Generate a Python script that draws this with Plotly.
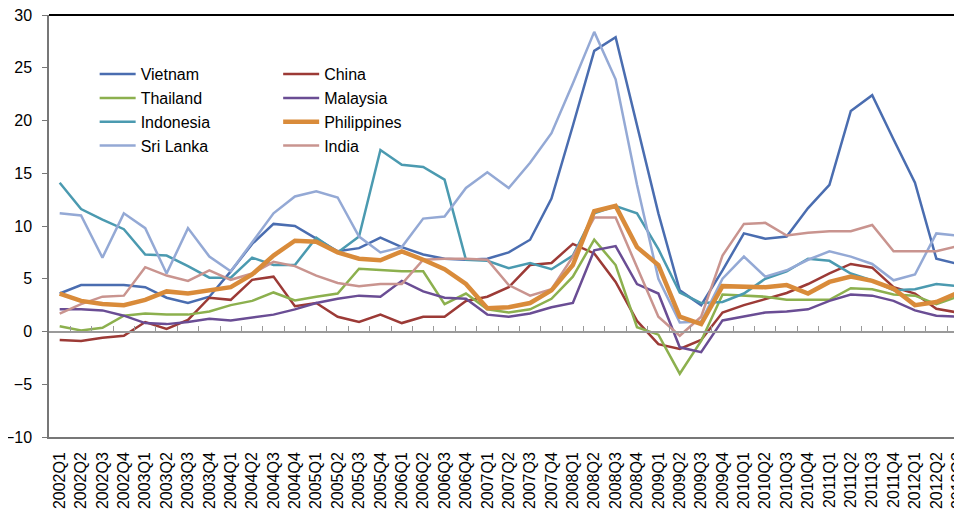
import plotly.graph_objects as go

quarters = [f"{y}Q{q}" for y in range(2002, 2013) for q in range(1, 5)][:43]

vietnam = [3.6, 4.4, 4.4, 4.4, 4.2, 3.2, 2.7, 3.3, 5.7, 8.3, 10.2, 10.0, 8.8, 7.6, 7.9,
           8.9, 8.0, 7.3, 6.9, 6.8, 6.9, 7.5, 8.7, 12.6, 19.5, 26.6, 27.9, 19.6, 11.2,
           3.9, 2.5, 5.8, 9.3, 8.8, 9.0, 11.7, 13.9, 20.9, 22.4, 18.2, 14.1, 6.9, 6.4]
china = [-0.8, -0.9, -0.6, -0.4, 0.9, 0.25, 1.1, 3.2, 3.0, 4.9, 5.2, 2.4, 2.7, 1.4, 0.9,
         1.6, 0.8, 1.4, 1.4, 2.9, 3.3, 4.2, 6.3, 6.5, 8.3, 7.4, 4.7, 1.0, -1.2,
         -1.65, -0.8, 1.8, 2.5, 3.1, 3.65, 4.5, 5.5, 6.4, 6.05, 4.2, 3.6, 2.15, 1.8]
thailand = [0.5, 0.1, 0.35, 1.5, 1.7, 1.6, 1.6, 1.9, 2.5, 2.9, 3.7, 2.95, 3.3, 3.6, 5.95,
            5.8, 5.7, 5.7, 2.6, 3.6, 2.1, 1.8, 2.1, 3.1, 5.2, 8.7, 6.3, 0.4, -0.3,
            -4.0, -0.9, 3.5, 3.4, 3.3, 3.0, 3.0, 3.0, 4.1, 4.0, 3.5, 3.4, 2.6, 3.3]
malaysia = [2.1, 2.1, 2.0, 1.5, 0.8, 0.7, 0.9, 1.2, 1.05, 1.3, 1.6, 2.1, 2.7, 3.1, 3.4,
            3.3, 4.8, 3.8, 3.2, 3.1, 1.6, 1.4, 1.7, 2.3, 2.7, 7.7, 8.1, 4.5, 3.6,
            -1.5, -1.96, 1.05, 1.4, 1.8, 1.9, 2.1, 2.9, 3.5, 3.4, 2.9, 2.0, 1.5, 1.4]
indonesia = [14.1, 11.6, 10.6, 9.7, 7.3, 7.2, 6.2, 5.1, 5.1, 7.0, 6.3, 6.3, 8.9, 7.5, 9.0,
             17.2, 15.8, 15.6, 14.4, 6.8, 6.7, 6.0, 6.5, 5.9, 7.2, 11.2, 11.9, 11.2, 7.8,
             3.7, 2.7, 2.8, 3.6, 5.0, 5.7, 6.9, 6.7, 5.5, 4.85, 3.9, 4.0, 4.5, 4.3]
philippines = [3.6, 2.9, 2.6, 2.5, 3.0, 3.8, 3.6, 3.9, 4.2, 5.4, 7.2, 8.6, 8.5, 7.5, 6.9,
               6.75, 7.6, 6.8, 5.9, 4.5, 2.2, 2.3, 2.7, 3.9, 6.3, 11.4, 11.9, 8.0, 6.3,
               1.4, 0.7, 4.3, 4.3, 4.2, 4.4, 3.6, 4.7, 5.2, 4.8, 4.05, 2.5, 2.8, 3.65]
sri_lanka = [11.2, 11.0, 7.0, 11.2, 9.8, 5.5, 9.8, 7.1, 5.7, 8.4, 11.2, 12.8, 13.3, 12.7, 9.0,
             7.5, 8.0, 10.7, 10.9, 13.6, 15.1, 13.6, 16.0, 18.8, 23.5, 28.4, 23.9, 13.9, 5.0,
             0.85, 0.95, 5.0, 7.1, 5.2, 5.8, 6.8, 7.6, 7.1, 6.4, 4.85, 5.4, 9.3, 9.1]
india = [1.7, 2.6, 3.3, 3.4, 6.1, 5.3, 4.8, 5.8, 4.9, 5.5, 6.6, 6.2, 5.3, 4.6, 4.3,
         4.5, 4.5, 6.8, 6.9, 6.9, 6.8, 4.4, 3.4, 4.0, 7.1, 10.8, 10.8, 6.1, 1.4,
         -0.4, 1.4, 7.2, 10.2, 10.3, 9.1, 9.35, 9.5, 9.5, 10.1, 7.6, 7.6, 7.6, 8.1]

series = [
    ("Vietnam", vietnam, "#4a6db0", 2.5, "legend"),
    ("China", china, "#9c3a36", 2.5, "legend2"),
    ("Thailand", thailand, "#8cb04e", 2.5, "legend"),
    ("Malaysia", malaysia, "#6a4d94", 2.5, "legend2"),
    ("Indonesia", indonesia, "#4b9ab0", 2.5, "legend"),
    ("Sri Lanka", sri_lanka, "#94a9d5", 2.5, "legend"),
    ("India", india, "#c9948f", 2.5, "legend2"),
    ("Philippines", philippines, "#d98b3a", 4.5, "legend2"),
]
legend_rank = {"Vietnam": 1, "Thailand": 2, "Indonesia": 3, "Sri Lanka": 4,
               "China": 1, "Malaysia": 2, "Philippines": 3, "India": 4}

FONT = "Liberation Sans, Arial, sans-serif"

fig = go.Figure()
for name, vals, color, w, lg in series:
    fig.add_trace(go.Scatter(
        x=quarters, y=vals, mode="lines", name=name,
        line=dict(color=color, width=w), legend=lg,
        legendrank=legend_rank[name],
    ))

# invisible trace to carry the zero-line axis
fig.add_trace(go.Scatter(x=quarters, y=[None] * len(quarters), xaxis="x2",
                         showlegend=False, hoverinfo="skip", mode="lines"))

fig.update_layout(
    width=954, height=502,
    margin=dict(l=41, r=0, t=7, b=73, autoexpand=False),
    paper_bgcolor="white", plot_bgcolor="white",
    font=dict(family=FONT, size=16, color="black"),
    showlegend=True,
    xaxis=dict(
        type="category", categoryorder="array", categoryarray=quarters,
        range=[-0.5, 42.2], showgrid=False, zeroline=False, automargin=False,
        showline=True, linecolor="#777777", linewidth=1.5,
        ticks="", tickangle=-90, tickfont=dict(size=16, family=FONT),
        ticklabelstandoff=7, ticklabeloverflow="allow",
    ),
    xaxis2=dict(
        type="category", categoryorder="array", categoryarray=quarters,
        range=[-0.5, 42.2], overlaying="x", anchor="free", position=0.25,
        showgrid=False, zeroline=False, showline=True, automargin=False,
        linecolor="#9a9a9a", linewidth=1.5,
        ticks="inside", ticklen=5, tickcolor="#9a9a9a", tickwidth=1,
        tickson="boundaries", showticklabels=False,
    ),
    yaxis=dict(
        range=[-10, 30], dtick=5, tick0=0, showgrid=False, zeroline=False,
        showline=True, linecolor="#777777", linewidth=1.5, automargin=False,
        ticks="outside", ticklen=5, tickcolor="#777777",
        tickfont=dict(size=16, family=FONT), ticklabelstandoff=7,
        ticklabeloverflow="allow",
    ),
    legend=dict(
        x=0.050, y=0.90, xanchor="left", yanchor="top",
        bgcolor="rgba(0,0,0,0)", font=dict(size=16, family=FONT),
        tracegroupgap=0, itemwidth=36,
    ),
    legend2=dict(
        x=0.251, y=0.90, xanchor="left", yanchor="top",
        bgcolor="rgba(0,0,0,0)", font=dict(size=16, family=FONT),
        tracegroupgap=0, itemwidth=36,
    ),
    shapes=[dict(type="line", xref="paper", yref="paper", x0=0, x1=1, y0=1, y1=1,
                 line=dict(color="black", width=2))],
)

fig.write_html("out.html")
